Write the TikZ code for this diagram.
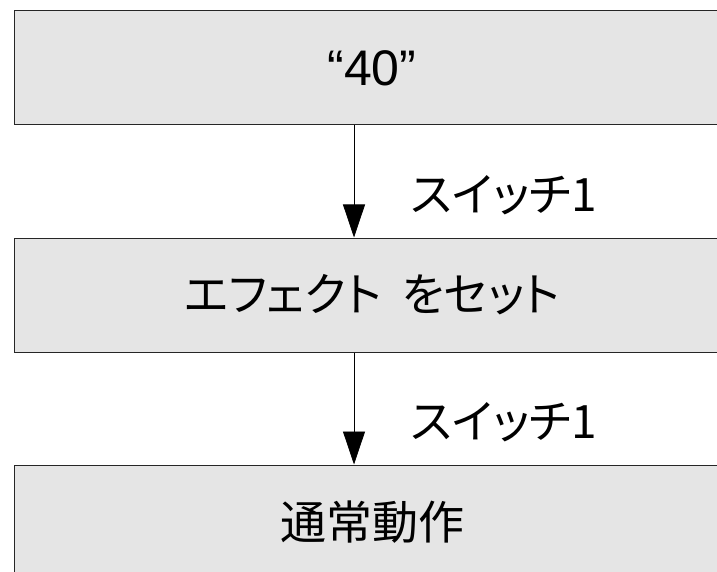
\documentclass[tikz,border=0pt]{standalone}
\usepackage{fontspec}
\setmainfont{Liberation Sans}
\newfontfamily\jp[RawFeature=+palt]{Noto Sans CJK JP}
\usetikzlibrary{arrows.meta}

\tikzset{
  statebox/.style={draw=black!85, line width=1pt, fill=black!10, minimum width=716pt, minimum height=114pt, inner sep=0pt},
  flow/.style={line width=0.8pt, -{Triangle[length=33pt,width=22pt]}},
  cond/.style={anchor=west, inner sep=0pt, font=\jp\fontsize{46}{50}\selectfont}
}

\begin{document}
\begin{tikzpicture}[x=1pt,y=-1pt]
\useasboundingbox (0,0) rectangle (717,572);

\node[statebox, font=\fontsize{50}{60}\selectfont] (s1) at (372,68) {“40”};
\node[statebox, font=\jp\fontsize{46}{50}\selectfont] (s2) at (372,295) {エフェクト\ \ をセット};
\node[statebox, font=\jp\fontsize{46}{50}\selectfont] (s3) at (372,522) {通常動作};

\path[draw,flow] ([xshift=-18pt]s1.south) -- ([xshift=-18pt]s2.north);
\path[draw,flow] ([xshift=-18pt]s2.south) -- ([xshift=-18pt]s3.north);

\node[cond] (c1) at (411,195) {スイッチ1};
\node[cond] (c2) at (411,422) {スイッチ1};
\end{tikzpicture}
\end{document}
